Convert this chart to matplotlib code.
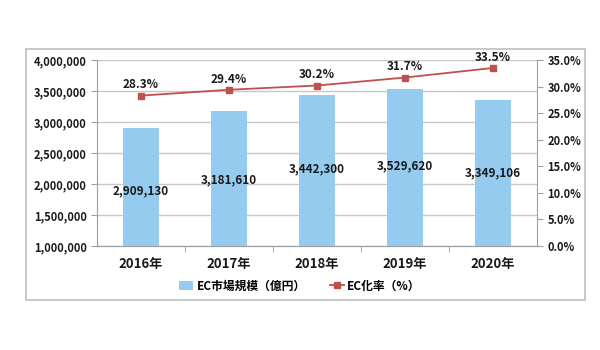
import matplotlib

matplotlib.use("Agg")
import matplotlib.pyplot as plt
from matplotlib.patches import Rectangle
from matplotlib.ticker import FuncFormatter, MultipleLocator

plt.rcParams["font.family"] = ["Noto Sans CJK JP", "DejaVu Sans"]

years = ["2016年", "2017年", "2018年", "2019年", "2020年"]
market_size = [2909130, 3181610, 3442300, 3529620, 3349106]
ec_rate = [28.3, 29.4, 30.2, 31.7, 33.5]
bar_label = "EC市場規模（億円）"
line_label = "EC化率（%）"

bar_color = "#94cbef"
line_color = "#c0504d"
text_color = "#1a1a1a"

fig = plt.figure(figsize=(6, 3.5), dpi=100)
fig.patches.append(Rectangle((26 / 600, 50 / 350), 559 / 600, 251 / 350,
                             transform=fig.transFigure, fill=False,
                             edgecolor="#bfbfbf", lw=1.2, zorder=0))

ax = fig.add_axes([97 / 600, 104 / 350, 440 / 600, 186 / 350])
ax2 = ax.twinx()

x = list(range(len(years)))
bars = ax.bar(x, market_size, width=0.4, color=bar_color, label=bar_label, zorder=2)
ax.set_ylim(1000000, 4000000)
ax.set_xlim(-0.5, len(years) - 0.5)
ax.yaxis.set_major_locator(MultipleLocator(500000))
ax.yaxis.set_major_formatter(FuncFormatter(lambda v, _: f"{int(v):,}"))
ax.grid(axis="y", color="#c8c8c8", lw=1, zorder=0)
ax.set_axisbelow(True)
ax.set_xticks(x)
ax.set_xticklabels(years, fontsize=9.5, fontweight="bold", color=text_color)
ax.set_xticks([i + 0.5 for i in x[:-1]], minor=True)
ax.tick_params(axis="x", which="major", length=0, pad=8)
ax.tick_params(axis="x", which="minor", length=4, color="#a0a0a0")
ax.tick_params(axis="y", length=4, color="#a0a0a0", labelsize=8, labelcolor=text_color)
for lbl in ax.get_yticklabels():
    lbl.set_fontweight("bold")
for i, v in enumerate(market_size):
    ax.text(i, v * 0.65, f"{v:,}", ha="center", va="center", fontsize=8.5,
            fontweight="bold", color=text_color, zorder=4)

ax2.plot(x, ec_rate, color=line_color, lw=1.3, marker="s", ms=4.5, label=line_label, zorder=3)
ax2.set_ylim(0, 35)
ax2.yaxis.set_major_locator(MultipleLocator(5))
ax2.yaxis.set_major_formatter(FuncFormatter(lambda v, _: f"{v:.1f}%"))
ax2.tick_params(axis="y", length=4, color="#a0a0a0", labelsize=8, labelcolor=text_color)
for lbl in ax2.get_yticklabels():
    lbl.set_fontweight("bold")
for i, v in enumerate(ec_rate):
    ax2.annotate(f"{v:.1f}%", (i, v), xytext=(0, 3), textcoords="offset points",
                 ha="center", va="bottom", fontsize=8.5, fontweight="bold",
                 color=text_color, zorder=5)

for a in (ax, ax2):
    a.spines["top"].set_visible(False)
    a.spines["left"].set_color("#a0a0a0")
    a.spines["right"].set_color("#a0a0a0")
    a.spines["bottom"].set_color("#a0a0a0")
ax2.spines["left"].set_visible(False)
ax.spines["right"].set_visible(False)

handles = [bars, ax2.get_lines()[0]]
fig.legend(handles, [bar_label, line_label], loc="center", bbox_to_anchor=(0.5, 64 / 350),
           ncol=2, frameon=False, prop={"size": 8.5, "weight": "bold"},
           handlelength=1.2, handleheight=0.8, columnspacing=2.0, handletextpad=0.3)

fig.savefig("out.png", dpi=100, facecolor="white")
